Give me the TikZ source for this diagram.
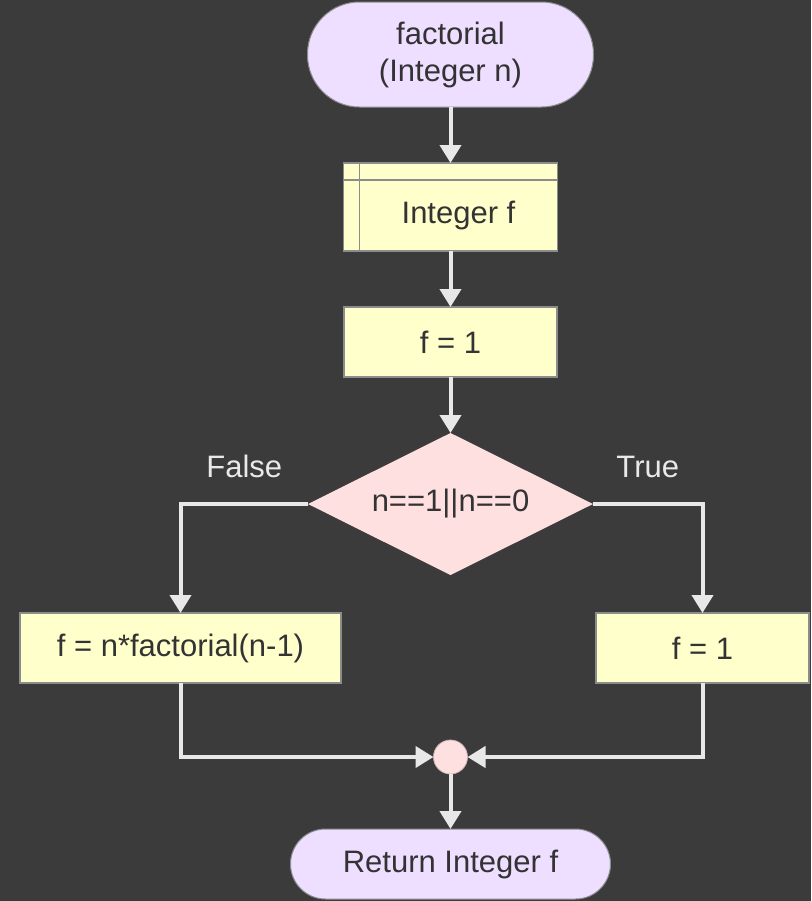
\documentclass[tikz,border=0pt]{standalone}
\usepackage{fontspec}
\setmainfont{Liberation Sans}
\usetikzlibrary{arrows.meta,positioning,shapes.geometric,calc}
\definecolor{canvas}{RGB}{59,59,59}
\definecolor{termfill}{RGB}{238,222,255}
\definecolor{boxfill}{RGB}{255,255,204}
\definecolor{decfill}{RGB}{255,224,224}
\definecolor{edgecol}{RGB}{232,232,232}
\definecolor{inkcol}{RGB}{51,51,51}
\definecolor{rimcol}{RGB}{140,140,140}

\begin{document}
\begin{tikzpicture}[
  txt/.style={font=\fontsize{15.5}{18.5}\selectfont, text=inkcol},
  term/.style={txt, rectangle, draw=rimcol, line width=0.5pt, fill=termfill,
               align=center, inner sep=0pt, outer sep=0pt},
  box/.style={txt, rectangle, draw=rimcol, line width=0.75pt, fill=boxfill,
              align=center, inner sep=0pt, outer sep=0pt, minimum width=106.5pt,
              minimum height=35pt},
  decision/.style={txt, diamond, shape aspect=2, fill=decfill, inner sep=0pt,
                   outer sep=0pt, minimum width=142.5pt, minimum height=71pt},
  merge/.style={circle, fill=decfill, draw=decfill!80!black, line width=0.4pt,
                minimum size=17pt, inner sep=0pt, outer sep=0pt},
  lbl/.style={font=\fontsize{15.5}{18.5}\selectfont, text=edgecol!95!white,
              inner sep=0pt},
  arr/.style={draw=edgecol, line width=2pt,
              -{Triangle[length=9pt, width=10.5pt]}}
]
\fill[canvas] (0,0) rectangle (405.5pt,-450.5pt);

\node[term, minimum width=143pt, minimum height=52.5pt, rounded corners=26pt]
  (start) at (225.25pt,-27.25pt) {factorial\\(Integer n)};
\node[box, minimum width=107pt, minimum height=44pt, below=28pt of start,
      label={[txt, xshift=4pt, yshift=-4.25pt]center:Integer f}] (decl) {};
\draw[rimcol, line width=0.75pt] ([xshift=8pt]decl.north west) -- ([xshift=8pt]decl.south west);
\draw[rimcol, line width=0.75pt] ([yshift=-8.5pt]decl.north west) -- ([yshift=-8.5pt]decl.north east);
\node[box, below=28pt of decl] (init) {f = 1};
\node[decision, below=28pt of init] (cond) {n==1||n==0};
\node[box, minimum width=160.5pt, below=19pt of cond, xshift=-135pt] (recur) {f = n*factorial(n-1)};
\node[box, below=19pt of cond, xshift=126pt] (base) {f = 1};
\node[merge, below=82.5pt of cond] (join) {};
\node[term, minimum width=160pt, minimum height=35pt, rounded corners=17.5pt,
      below=27.5pt of join] (ret) {Return Integer f};

\draw[arr] (start) -- (decl);
\draw[arr] (decl) -- (init);
\draw[arr] (init) -- (cond);
\draw[arr] (cond.west) -| node[lbl, pos=0.25, above=12pt]{False} (recur.north);
\draw[arr] (cond.east) -| node[lbl, pos=0.25, above=12pt]{True} (base.north);
\draw[arr] (recur.south) |- (join.west);
\draw[arr] (base.south) |- (join.east);
\draw[arr] (join) -- (ret);
\end{tikzpicture}
\end{document}
